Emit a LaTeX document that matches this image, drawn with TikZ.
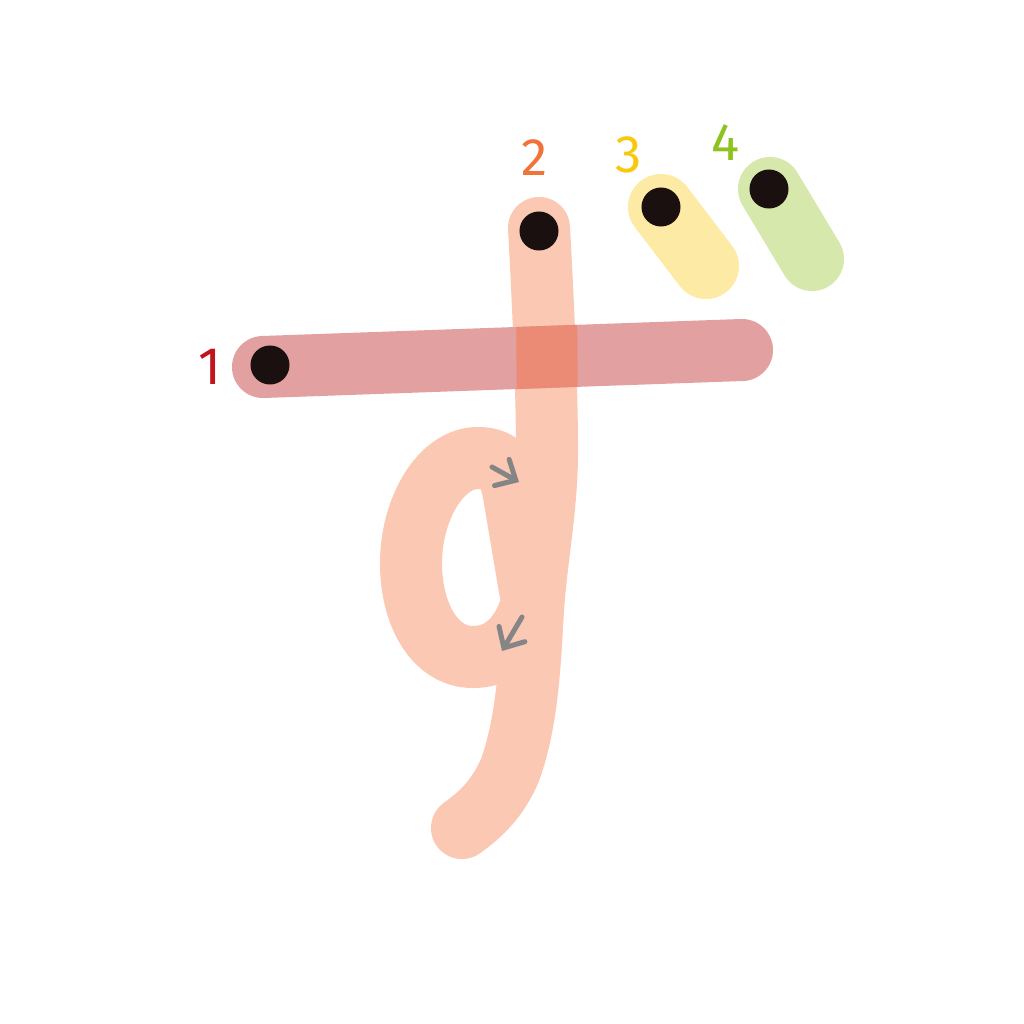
\documentclass[tikz,border=0pt]{standalone}
\usepackage{fontspec}
\newfontfamily\numfont{Fira Sans}
\usetikzlibrary{arrows.meta}
\definecolor{sone}{HTML}{E3A0A0}
\definecolor{sover}{HTML}{EC8B75}
\definecolor{stwo}{HTML}{FBC8B3}
\definecolor{sthree}{HTML}{FDEBA5}
\definecolor{sfour}{HTML}{D6E8AC}
\definecolor{lone}{HTML}{C0161B}
\definecolor{ltwo}{HTML}{F0733A}
\definecolor{lthree}{HTML}{F9C80E}
\definecolor{lfour}{HTML}{8DC21F}
\definecolor{dotc}{HTML}{1A1010}
\definecolor{arrc}{HTML}{858585}
\tikzset{
  strokeband/.style={line width=6.2mm, line cap=round, line join=round},
  startdot/.style={circle, fill=dotc, minimum size=3.9mm, inner sep=0pt},
  numlabel/.style={font=\numfont\fontsize{15}{18}\selectfont, inner sep=0pt},
  dirarrow/.style={draw=arrc, line width=0.5mm, line cap=round, -{Straight Barb[length=1.6mm,width=3mm,line cap=round]}}
}
\begin{document}
\begin{tikzpicture}[x=0.01cm, y=-0.01cm]
\useasboundingbox (0,0) rectangle (1024,1024);
% stroke 4
\draw[strokeband, sfour, line width=6.4mm] (770,189) -- (812,259);
% stroke 3
\draw[strokeband, sthree, line width=6.6mm] (661,207) -- (706,266);
% stroke 2 : vertical and tail
\draw[strokeband, stwo] (539,228) .. controls (543,300) and (547,390) .. (547,450)
  .. controls (547,510) and (536,560) .. (533,610)
  .. controls (530,660) and (528,720) .. (510,770)
  .. controls (497,800) and (480,815) .. (462,828);
% stroke 2 : loop
\draw[strokeband, stwo] (533,600) .. controls (522,640) and (500,657) .. (473,657)
  .. controls (435,657) and (411,615) .. (411,563)
  .. controls (411,510) and (440,458) .. (478,458)
  .. controls (500,458) and (510,470) .. (514,495) -- (530,590);
% stroke 1
\draw[strokeband, sone] (263,367) -- (742,350);
\begin{scope}
  \clip (516,300) -- (577,300) -- (578,420) -- (517,420) -- cycle;
  \draw[strokeband, sover] (263,367) -- (742,350);
\end{scope}
% direction arrows
\coordinate (a1s) at (492,467);
\coordinate (a1e) at (519,482);
\coordinate (a2s) at (522,617);
\coordinate (a2e) at (502,651);
\draw[dirarrow] (a1s) -- (a1e);
\draw[dirarrow] (a2s) -- (a2e);
% start dots
\node[startdot] (d1) at (270,365) {};
\node[startdot] (d2) at (539,231) {};
\node[startdot] (d3) at (661,207) {};
\node[startdot] (d4) at (769,189) {};
% labels
\node[numlabel, text=lone] (n1) at (210,367) {1};
\node[numlabel, text=ltwo] (n2) at (535,158) {2};
\node[numlabel, text=lthree] (n3) at (629,155) {3};
\node[numlabel, text=lfour] (n4) at (726,143) {4};
\end{tikzpicture}
\end{document}
